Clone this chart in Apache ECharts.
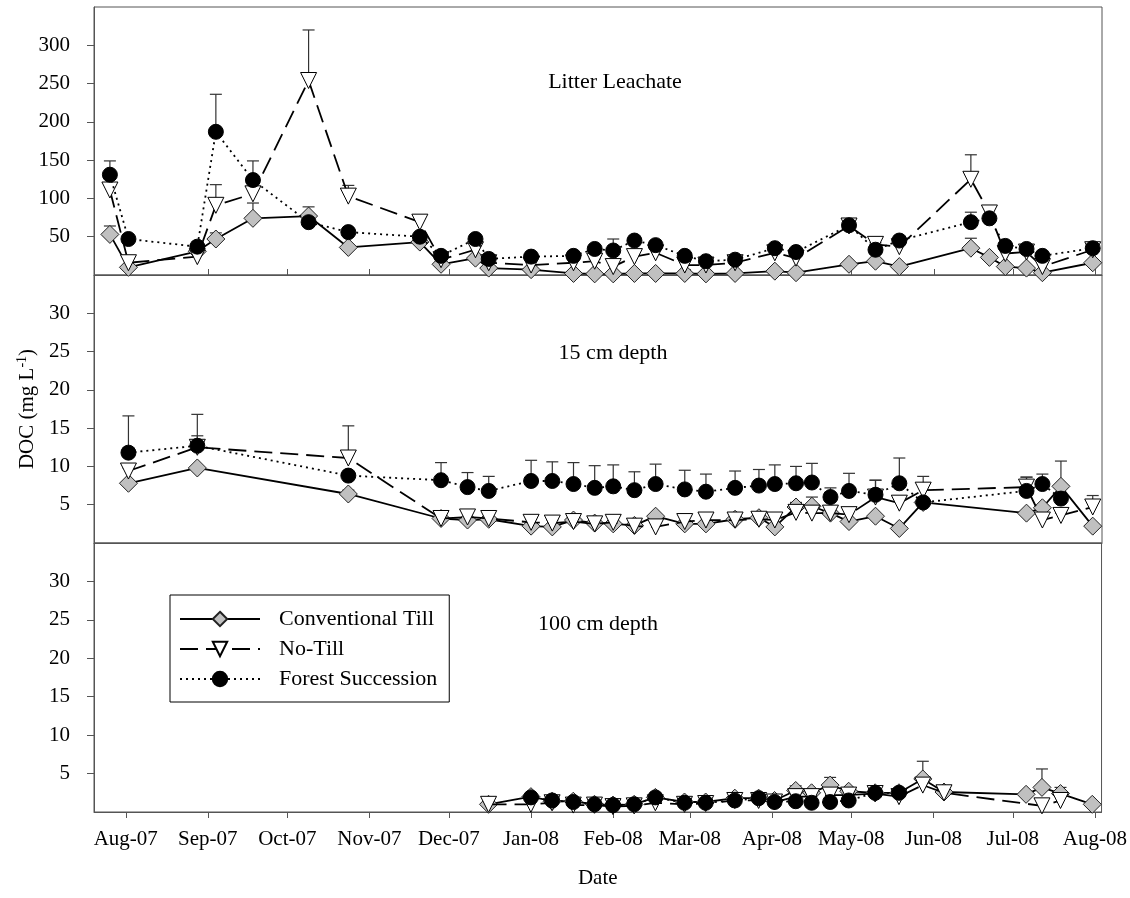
<!DOCTYPE html>
<html>
<head>
<meta charset="utf-8">
<script src="https://cdn.jsdelivr.net/npm/echarts@6/dist/echarts.min.js"></script>
<style>
  html, body { margin: 0; padding: 0; background: #fff; }
  #chart { width: 1130px; height: 898px; }
</style>
</head>
<body>
<div id="chart"></div>
<script>
// series names (legend order)
const names = ['Conventional Till', 'No-Till', 'Forest Succession']

// x axis ticks: first of each month
const tickDates = ['2007-08-01', '2007-09-01', '2007-10-01', '2007-11-01', '2007-12-01', '2008-01-01',
  '2008-02-01', '2008-03-01', '2008-04-01', '2008-05-01', '2008-06-01', '2008-07-01', '2008-08-01']
const tickLabels = ['Aug-07', 'Sep-07', 'Oct-07', 'Nov-07', 'Dec-07', 'Jan-08', 'Feb-08', 'Mar-08',
  'Apr-08', 'May-08', 'Jun-08', 'Jul-08', 'Aug-08']
const yTicksTop = [50, 100, 150, 200, 250, 300]
const yTicksLow = [5, 10, 15, 20, 25, 30]

// ---- Litter Leachate ----
const litterDates = ['2007-07-26', '2007-08-02', '2007-08-28', '2007-09-04', '2007-09-18', '2007-10-09',
  '2007-10-24', '2007-11-20', '2007-11-28', '2007-12-11', '2007-12-16', '2008-01-01', '2008-01-17',
  '2008-01-25', '2008-02-01', '2008-02-09', '2008-02-17', '2008-02-28', '2008-03-07', '2008-03-18',
  '2008-04-02', '2008-04-10', '2008-04-30', '2008-05-10', '2008-05-19', '2008-06-15', '2008-06-22',
  '2008-06-28', '2008-07-06', '2008-07-12', '2008-07-31']
const litterCT = [53, 10, 31, 47, 74, 77, 36, 43, 14, 22, 9, 7, 2, 1.5, 1.5, 2, 2, 2, 1.5, 2, 5, 3, 14, 18, 11, 35, 23, 11, 9, 3, 16]
const litterNT = [111, 16, 24, 91, 106, 254, 103, 69, 20, 33, 16, 13, 16, 18, 11, 24, 29, 13, 13, 16, 29, 22, 64, 40, 37, 125, 81, 28, 30, 11, 33]
const litterFS = [131, 47, 37, 187, 124, 69, 56, 50, 25, 47, 21, 24, 25, 34, 32, 45, 39, 25, 18, 20, 35, 30, 65, 33, 45, 69, 74, 38, 34, 25, 35]
const litterCTse = [11, null, null, 8, 20, 12, null, null, null, null, null, null, null, null, null, null, null, null, null, null, null, null, null, null, null, 13, null, null, null, null, null]
const litterNTse = [null, null, null, 27, null, 66, 14, 5, null, null, null, null, null, 3, null, null, null, null, null, null, null, null, null, 2, null, 32, 6, null, null, null, null]
const litterFSse = [18, null, null, 49, 25, null, null, null, null, null, null, null, null, null, 15, null, null, null, null, null, null, null, null, null, null, 13, 3, null, null, null, null]

// ---- 15 cm depth ----
const d15Dates = ['2007-08-02', '2007-08-28', '2007-10-24', '2007-11-28', '2007-12-08', '2007-12-16',
  '2008-01-01', '2008-01-09', '2008-01-17', '2008-01-25', '2008-02-01', '2008-02-09', '2008-02-17',
  '2008-02-28', '2008-03-07', '2008-03-18', '2008-03-27', '2008-04-02', '2008-04-10', '2008-04-16',
  '2008-04-23', '2008-04-30', '2008-05-10', '2008-05-19', '2008-05-28', '2008-07-06', '2008-07-12',
  '2008-07-19', '2008-07-31']
const d15CT = [7.8, 9.8, 6.4, 3.2, 3.0, 3.1, 2.2, 2.1, 3.0, 2.6, 2.5, 2.3, 3.5, 2.5, 2.5, 3.1, 3.3, 2.1, 4.7, 4.8, 3.9, 2.8, 3.5, 1.9, 5.3, 3.9, 4.6, 7.4, 2.2]
const d15NT = [9.4, 12.5, 11.1, 3.2, 3.4, 3.2, 2.7, 2.6, 2.8, 2.5, 2.7, 2.2, 2.1, 2.8, 3.0, 3.0, 3.1, 3.0, 4.0, 3.9, 3.9, 3.7, 6.0, 5.2, 6.9, 7.3, 3.0, 3.6, 4.7]
const d15FS = [11.8, 12.7, 8.8, 8.2, 7.3, 6.8, 8.1, 8.1, 7.7, 7.2, 7.4, 6.9, 7.7, 7.0, 6.7, 7.2, 7.5, 7.7, 7.8, 7.9, 6.0, 6.8, 6.3, 7.8, 5.3, 6.8, 7.7, 5.8, null]
const d15CTse = [null, null, 0.5, null, null, null, null, null, null, null, null, null, null, null, null, null, null, null, 0.6, 1.2, null, null, null, null, null, null, null, 3.3, null]
const d15NTse = [0.4, 1.5, 4.2, null, 0.8, null, 0.4, 0.4, null, null, null, null, null, null, 0.6, null, null, null, 0.5, null, null, null, 2.2, 0.5, 1.8, 1.3, null, 0.3, 1.5]
const d15FSse = [4.8, 4.1, null, 2.3, 1.9, 1.9, 2.7, 2.5, 2.8, 2.9, 2.8, 2.4, 2.6, 2.5, 2.3, 2.2, 2.1, 2.5, 2.2, 2.5, 1.2, 2.3, 1.9, 3.3, null, 1.8, 1.3, null, null]

// ---- 100 cm depth ----
const d100Dates = ['2007-12-16', '2008-01-01', '2008-01-09', '2008-01-17', '2008-01-25', '2008-02-01',
  '2008-02-09', '2008-02-17', '2008-02-28', '2008-03-07', '2008-03-18', '2008-03-27', '2008-04-02',
  '2008-04-10', '2008-04-16', '2008-04-23', '2008-04-30', '2008-05-10', '2008-05-19', '2008-05-28',
  '2008-06-05', '2008-07-06', '2008-07-12', '2008-07-19', '2008-07-31']
const d100CT = [1.0, 2.0, 1.4, 1.4, 1.0, 0.9, 1.0, 1.9, 1.3, 1.3, 1.8, 1.8, 1.5, 2.8, 2.5, 3.5, 2.7, 2.5, 2.5, 4.3, 2.6, 2.3, 3.2, 2.4, 1.0]
const d100NT = [1.0, 1.0, 1.2, 0.9, 0.9, 0.7, 0.8, 1.2, 1.0, 1.1, 1.5, 1.5, 1.3, 2.0, 2.0, 2.2, 2.2, 2.4, 2.0, 3.5, 2.5, null, 0.8, 1.5, null]
const d100FS = [null, 1.9, 1.5, 1.3, 1.0, 0.9, 1.0, 1.9, 1.2, 1.2, 1.5, 1.8, 1.3, 1.4, 1.2, 1.3, 1.5, 2.5, 2.5, null, null, null, null, null, null]
const d100CTse = [null, null, null, null, null, null, null, null, null, null, null, null, null, 0.6, null, 1.0, null, null, null, 2.3, null, null, 2.4, 0.8, null]
const d100NTse = [null, null, null, null, null, null, null, null, null, null, null, null, null, null, null, null, null, null, null, null, null, null, null, null, null]
const d100FSse = [null, null, null, null, null, null, null, null, null, null, null, null, null, null, null, null, null, 0.3, null, null, null, null, null, null, null]

const fontFam = '"Liberation Serif", "Times New Roman", serif'
const frameColor = '#555'

function t(s) {
  const p = s.split('-')
  return Date.UTC(+p[0], +p[1] - 1, +p[2])
}
const tickTimes = tickDates.map(t)

// one panel = dates + 3 value arrays + 3 se arrays
const panels = [
  { dates: litterDates, vals: [litterCT, litterNT, litterFS], se: [litterCTse, litterNTse, litterFSse] },
  { dates: d15Dates, vals: [d15CT, d15NT, d15FS], se: [d15CTse, d15NTse, d15FSse] },
  { dates: d100Dates, vals: [d100CT, d100NT, d100FS], se: [d100CTse, d100NTse, d100FSse] },
]

// marker / line style per treatment
const styles = [
  { symbol: 'diamond', size: 18, rotate: 0, fill: '#c0c0c0', border: '#222', line: 'solid' },
  { symbol: 'triangle', size: 16, rotate: 180, fill: '#fff', border: '#000', line: [18, 8] },
  { symbol: 'circle', size: 15, rotate: 0, fill: '#000', border: '#000', line: [2, 4] },
]

function renderErr(params, api) {
  const x = api.value(0)
  const y = api.value(1)
  const e = api.value(2)
  const p0 = api.coord([x, y])
  const p1 = api.coord([x, y + e])
  const st = { stroke: '#333', lineWidth: 1.2 }
  return {
    type: 'group',
    children: [
      { type: 'line', shape: { x1: p0[0], y1: p0[1], x2: p1[0], y2: p1[1] }, style: st },
      { type: 'line', shape: { x1: p1[0] - 6, y1: p1[1], x2: p1[0] + 6, y2: p1[1] }, style: st },
    ],
  }
}

const series = []
panels.forEach((pn, pi) => {
  // error bars first so markers sit on top
  pn.vals.forEach((vals, si) => {
    const errData = []
    pn.dates.forEach((d, i) => {
      if (vals[i] != null && pn.se[si][i] != null) errData.push([t(d), vals[i], pn.se[si][i]])
    })
    series.push({
      type: 'custom',
      xAxisIndex: pi,
      yAxisIndex: pi,
      renderItem: renderErr,
      data: errData,
      z: 1,
      silent: true,
    })
  })
  pn.vals.forEach((vals, si) => {
    const s = styles[si]
    series.push({
      name: names[si],
      type: 'line',
      xAxisIndex: pi,
      yAxisIndex: pi,
      data: pn.dates.map((d, i) => [t(d), vals[i]]),
      connectNulls: true,
      symbol: s.symbol,
      symbolSize: s.size,
      symbolRotate: s.rotate,
      showAllSymbol: true,
      itemStyle: { color: s.fill, borderColor: s.border, borderWidth: 1 },
      lineStyle: { color: '#000', width: 1.8, type: s.line },
      z: 2 + si,
      animation: false,
    })
  })
})

const grids = [
  { left: 94, top: 7, width: 1008, height: 268 },
  { left: 94, top: 275, width: 1008, height: 268 },
  { left: 94, top: 543, width: 1008, height: 269 },
].map(g => Object.assign(g, { show: true, borderColor: frameColor, borderWidth: 1, backgroundColor: 'transparent' }))

const xMin = Date.UTC(2007, 6, 20)
const xMax = Date.UTC(2008, 7, 3, 12)

function makeX(i) {
  const bottom = i === 2
  return {
    type: 'value',
    gridIndex: i,
    min: xMin,
    max: xMax,
    splitLine: { show: false },
    axisLine: { show: true, lineStyle: { color: frameColor, width: 1 } },
    axisTick: {
      show: i !== 1,
      inside: i === 0,
      length: 6,
      customValues: tickTimes,
      lineStyle: { color: frameColor },
    },
    axisLabel: {
      show: bottom,
      customValues: tickTimes,
      margin: 17,
      fontFamily: fontFam,
      fontSize: 21,
      color: '#000',
      formatter: v => {
        let k = 0
        tickTimes.forEach((tt, j) => { if (Math.abs(tt - v) < Math.abs(tickTimes[k] - v)) k = j })
        return tickLabels[k]
      },
    },
    name: bottom ? 'Date' : '',
    nameLocation: 'middle',
    nameGap: 56,
    nameTextStyle: { fontFamily: fontFam, fontSize: 21, color: '#000' },
  }
}

function makeY(i) {
  const ticks = i === 0 ? yTicksTop : yTicksLow
  const y = {
    type: 'value',
    gridIndex: i,
    min: 0,
    max: i === 0 ? 350 : 35,
    splitLine: { show: false },
    axisLine: { show: true, lineStyle: { color: frameColor, width: 1 } },
    axisTick: { show: true, length: 7, customValues: ticks, lineStyle: { color: frameColor } },
    axisLabel: { customValues: ticks, margin: 24, fontFamily: fontFam, fontSize: 21, color: '#000' },
  }
  if (i === 1) {
    y.name = 'DOC (mg L{sup|-1})'
    y.nameLocation = 'middle'
    y.nameGap = 52
    y.nameTextStyle = {
      fontFamily: fontFam, fontSize: 21, color: '#000',
      rich: { sup: { fontFamily: fontFam, fontSize: 14, color: '#000', verticalAlign: 'top', padding: [0, 0, 10, 0] } },
    }
  }
  return y
}

// panel captions
const captions = [
  { text: 'Litter Leachate', x: 615, y: 82 },
  { text: '15 cm depth', x: 613, y: 353 },
  { text: '100 cm depth', x: 598, y: 624 },
]

const option = {
  backgroundColor: '#fff',
  animation: false,
  grid: grids,
  xAxis: [0, 1, 2].map(makeX),
  yAxis: [0, 1, 2].map(makeY),
  legend: {
    data: names,
    orient: 'vertical',
    left: 170,
    top: 595,
    itemWidth: 80,
    itemHeight: 18,
    itemGap: 8,
    padding: [13, 12, 12, 9],
    borderColor: '#000',
    borderWidth: 1,
    selectedMode: false,
    textStyle: { fontFamily: fontFam, fontSize: 22, color: '#000', padding: [0, 0, 0, 14] },
  },
  graphic: captions.map(c => ({
    type: 'text',
    x: c.x,
    y: c.y,
    style: { text: c.text, fontFamily: fontFam, fontSize: 22, fill: '#000', align: 'center', verticalAlign: 'middle' },
  })),
  series: series,
}

const chart = echarts.init(document.getElementById('chart'))
chart.setOption(option)
</script>
</body>
</html>
